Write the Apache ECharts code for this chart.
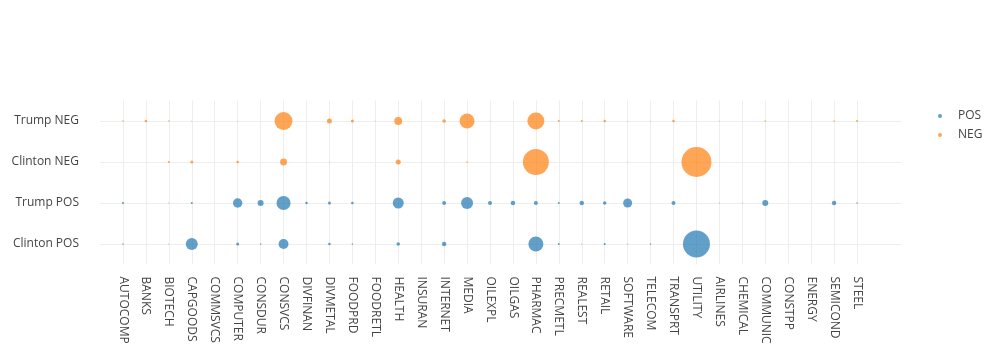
<!DOCTYPE html>
<html>
<head>
<meta charset="utf-8">
<script src="https://cdn.jsdelivr.net/npm/echarts@6/dist/echarts.min.js"></script>
<style>
html,body{margin:0;padding:0;background:#fff;}
#chart{width:1000px;height:350px;}
</style>
</head>
<body>
<div id="chart"></div>
<script>
var categories = ['AUTOCOMP','BANKS','BIOTECH','CAPGOODS','COMMSVCS','COMPUTER','CONSDUR','CONSVCS','DIVFINAN','DIVMETAL','FOODPRD','FOODRETL','HEALTH','INSURAN','INTERNET','MEDIA','OILEXPL','OILGAS','PHARMAC','PRECMETL','REALEST','RETAIL','SOFTWARE','TELECOM','TRANSPRT','UTILITY','AIRLINES','CHEMICAL','COMMUNIC','CONSTPP','ENERGY','SEMICOND','STEEL'];
var rows = ['Clinton POS','Trump POS','Clinton NEG','Trump NEG'];

var trumpNeg   = [0.25,0.7,0.25,0.1,0,0.1,0,36,0,2.8,1,0.1,7,0,1.4,25,0.1,0,32,0.45,0.45,0.7,0.1,0.1,0.7,0,0.1,0,0.25,0,0,0.25,0.45];
var clintonNeg = [0,0,0.45,1,0,0.7,0,5.4,0,0.1,0,0,2.8,0,0,0.25,0,0,75,0,0,0,0.07,0,0,100,0,0,0,0,0,0,0];
var trumpPos   = [0.45,0,0.1,0.45,0,10,4,22,0.7,1,0.7,0,13.4,0,1.8,16,1.8,2.25,1.8,0.45,2.25,1.4,9,0,1.8,0,0.1,0.1,4,0,0,2.25,0.25];
var clintonPos = [0.25,0,0.1,16,0,1,0.25,11,0,0.7,0.25,0,1.4,0,2.25,0,0,0,25,0.45,0.1,0.45,0.1,0.25,0,81,0,0,0,0,0,0,0];

function build(arr, rowIdx) {
  var out = [];
  arr.forEach(function (v, i) { if (v > 0) out.push([i, rowIdx, v]); });
  return out;
}
var posData = build(clintonPos, 0).concat(build(trumpPos, 1));
var negData = build(clintonNeg, 2).concat(build(trumpNeg, 3));

var textColor = '#444';
var font = 'Open Sans';
var gridColor = '#eeeeee';

var chart = echarts.init(document.getElementById('chart'), null, {renderer: 'canvas'});
chart.setOption({
  animation: false,
  backgroundColor: '#fff',
  textStyle: {fontFamily: font},
  legend: {
    orient: 'vertical',
    left: 933,
    top: 104,
    itemWidth: 4,
    itemHeight: 4,
    itemGap: 5,
    icon: 'circle',
    textStyle: {fontFamily: font, fontSize: 12, color: textColor, lineHeight: 14, padding: [0, 0, 0, 11]},
    data: ['POS', 'NEG']
  },
  grid: [
    {left: 111.5, width: 757, top: 100.5, height: 164, containLabel: false},
    {left: 100, width: 802, top: 100.5, height: 164, containLabel: false}
  ],
  xAxis: [
    {
      type: 'category', gridIndex: 0, data: categories, boundaryGap: true,
      axisLine: {show: false}, axisTick: {show: false},
      axisLabel: {rotate: -90, interval: 0, margin: 12, fontSize: 12, color: textColor, fontFamily: font},
      splitLine: {show: true, alignWithLabel: true, interval: 0, lineStyle: {color: gridColor, width: 1}}
    },
    {type: 'value', gridIndex: 1, show: false}
  ],
  yAxis: [
    {
      type: 'category', gridIndex: 0, data: rows, boundaryGap: true,
      axisLine: {show: false}, axisTick: {show: false}, axisLabel: {show: false},
      splitLine: {show: false}
    },
    {
      type: 'category', gridIndex: 1, data: rows, boundaryGap: true,
      axisLine: {show: false}, axisTick: {show: false},
      axisLabel: {margin: 21, fontSize: 12, color: textColor, fontFamily: font},
      splitLine: {show: true, alignWithLabel: true, interval: 0, lineStyle: {color: gridColor, width: 1}}
    }
  ],
  series: [
    {
      name: 'POS', type: 'scatter', xAxisIndex: 0, yAxisIndex: 0, clip: false,
      data: posData,
      symbolSize: function (d) { return 3 * Math.sqrt(d[2]); },
      itemStyle: {color: '#1f77b4', opacity: 0.7},
      emphasis: {disabled: true}
    },
    {
      name: 'NEG', type: 'scatter', xAxisIndex: 0, yAxisIndex: 0, clip: false,
      data: negData,
      symbolSize: function (d) { return 3 * Math.sqrt(d[2]); },
      itemStyle: {color: '#ff7f0e', opacity: 0.7},
      emphasis: {disabled: true}
    }
  ]
});
</script>
</body>
</html>
